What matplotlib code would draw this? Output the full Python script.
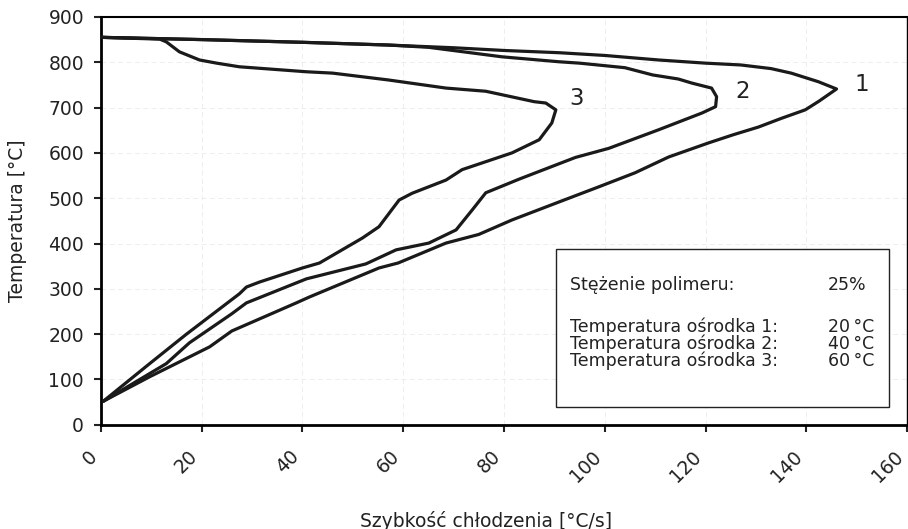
import matplotlib
matplotlib.use("Agg")
import matplotlib.pyplot as plt
from matplotlib.patches import Rectangle

# cooling rate [°C/s] vs temperature [°C]
c1_rate = [0, 20, 40, 57, 70, 80, 91, 100, 110.7, 120, 127, 133, 137, 142.4, 146,
           142.5, 139.8, 135, 130.5, 125.5, 120.6, 112.7, 106, 98.8, 91, 81.6, 75, 68.5,
           59, 55.2, 41.4, 38.8, 26, 21.6, 9.7, 0.5]
c1_temp = [855, 850, 844, 838, 832, 826, 821, 815, 805, 798, 794, 786, 776, 757, 741,
           714, 695, 676, 657, 640, 622, 591, 556, 525, 492, 452, 420, 401,
           357, 346, 282, 269, 207, 172, 106, 52]

c2_rate = [0, 20, 40, 57, 65, 79.6, 91, 95, 104, 109.5, 114.6, 117.3, 121.2, 122.2, 122,
           119.3, 110.7, 100.8, 94.2, 83, 76.4, 73.7, 70.5, 65.1, 58.6, 52.6, 40.8, 28.9,
           26, 17.6, 13, 0.5]
c2_temp = [855, 850, 844, 838, 833, 812, 801, 798, 788, 772, 763, 754, 743, 724, 702,
           688, 651, 610, 590, 542, 512, 474, 430, 401, 386, 355, 322, 269,
           245, 181, 135, 52]

c3_rate = [0, 11.7, 13, 15.6, 19.6, 23, 27.5, 40.8, 46, 57, 68.5, 76.4, 86, 88.3, 90.3,
           89.5, 87, 81.6, 71.7, 68.5, 61.8, 59.2, 55.2, 51.9, 43.4, 40, 31.5, 28.9, 27.5,
           17, 9.7, 0.5]
c3_temp = [855, 851, 845, 823, 805, 798, 790, 779, 776, 761, 743, 736, 713, 710, 695,
           666, 629, 600, 563, 540, 511, 496, 437, 412, 357, 346, 315, 304, 289,
           200, 135, 52]

curve_labels = ["1", "2", "3"]
label_pos = [(149.5, 750), (126, 735), (93, 721)]

conc_name, conc_value = "Stężenie polimeru:", "25%"
medium_names = ["Temperatura ośrodka 1:", "Temperatura ośrodka 2:", "Temperatura ośrodka 3:"]
medium_values = ["20\u2009°C", "40\u2009°C", "60\u2009°C"]

plt.rcParams["font.family"] = ["DejaVu Sans"]

fig = plt.figure(figsize=(9.08, 5.29), dpi=100)
ax = fig.add_axes([0.111, 0.197, 0.888, 0.771])

for xs, ys in [(c1_rate, c1_temp), (c2_rate, c2_temp), (c3_rate, c3_temp)]:
    ax.plot(xs, ys, color="#1a1a1a", lw=2.3, solid_joinstyle="round",
            solid_capstyle="round", zorder=4)

for lab, (x, y) in zip(curve_labels, label_pos):
    ax.text(x, y, lab, fontsize=16.5, ha="left", va="center", color="#222222")

ax.set_xlim(0, 160)
ax.set_ylim(0, 900)
ax.set_xticks(range(0, 161, 20))
ax.set_yticks(range(0, 901, 100))
ax.grid(True, color="#ebebeb", lw=0.6, ls=(0, (6, 4)), zorder=0)

for side in ["left", "bottom"]:
    ax.spines[side].set_linewidth(2.0)
ax.spines["top"].set_linewidth(1.5)
ax.spines["right"].set_linewidth(1.0)

ax.tick_params(axis="both", direction="out", length=5, width=1.5,
               labelsize=13.5, colors="#222222")
ax.tick_params(axis="x", pad=11)
ax.tick_params(axis="y", pad=7)
plt.setp(ax.get_xticklabels(), rotation=45, ha="right", va="top")

ax.set_ylabel("Temperatura [°C]", fontsize=13.5, color="#222222", va="center")
ax.yaxis.set_label_coords(-0.103, 0.5)
ax.set_xlabel("Szybkość chłodzenia [°C/s]", fontsize=13.5, color="#222222")
ax.xaxis.set_label_coords(0.478, -0.235)
ax.xaxis.label.set_va("center")

box = Rectangle((0.564, 0.044), 0.414, 0.387, transform=ax.transAxes,
                facecolor="white", edgecolor="#222222", lw=1.0, zorder=5)
ax.add_patch(box)
ax.text(0.582, 0.343, conc_name, transform=ax.transAxes, fontsize=12.5,
        ha="left", va="center", zorder=6, color="#222222")
ax.text(0.902, 0.343, conc_value, transform=ax.transAxes, fontsize=12.5,
        ha="left", va="center", zorder=6, color="#222222")
ax.text(0.582, 0.199, "\n".join(medium_names), transform=ax.transAxes, fontsize=12.5,
        ha="left", va="center", linespacing=0.92, zorder=6, color="#222222")
ax.text(0.902, 0.199, "\n".join(medium_values), transform=ax.transAxes, fontsize=12.5,
        ha="left", va="center", linespacing=0.92, zorder=6, color="#222222")

fig.savefig("out.png", dpi=100)
